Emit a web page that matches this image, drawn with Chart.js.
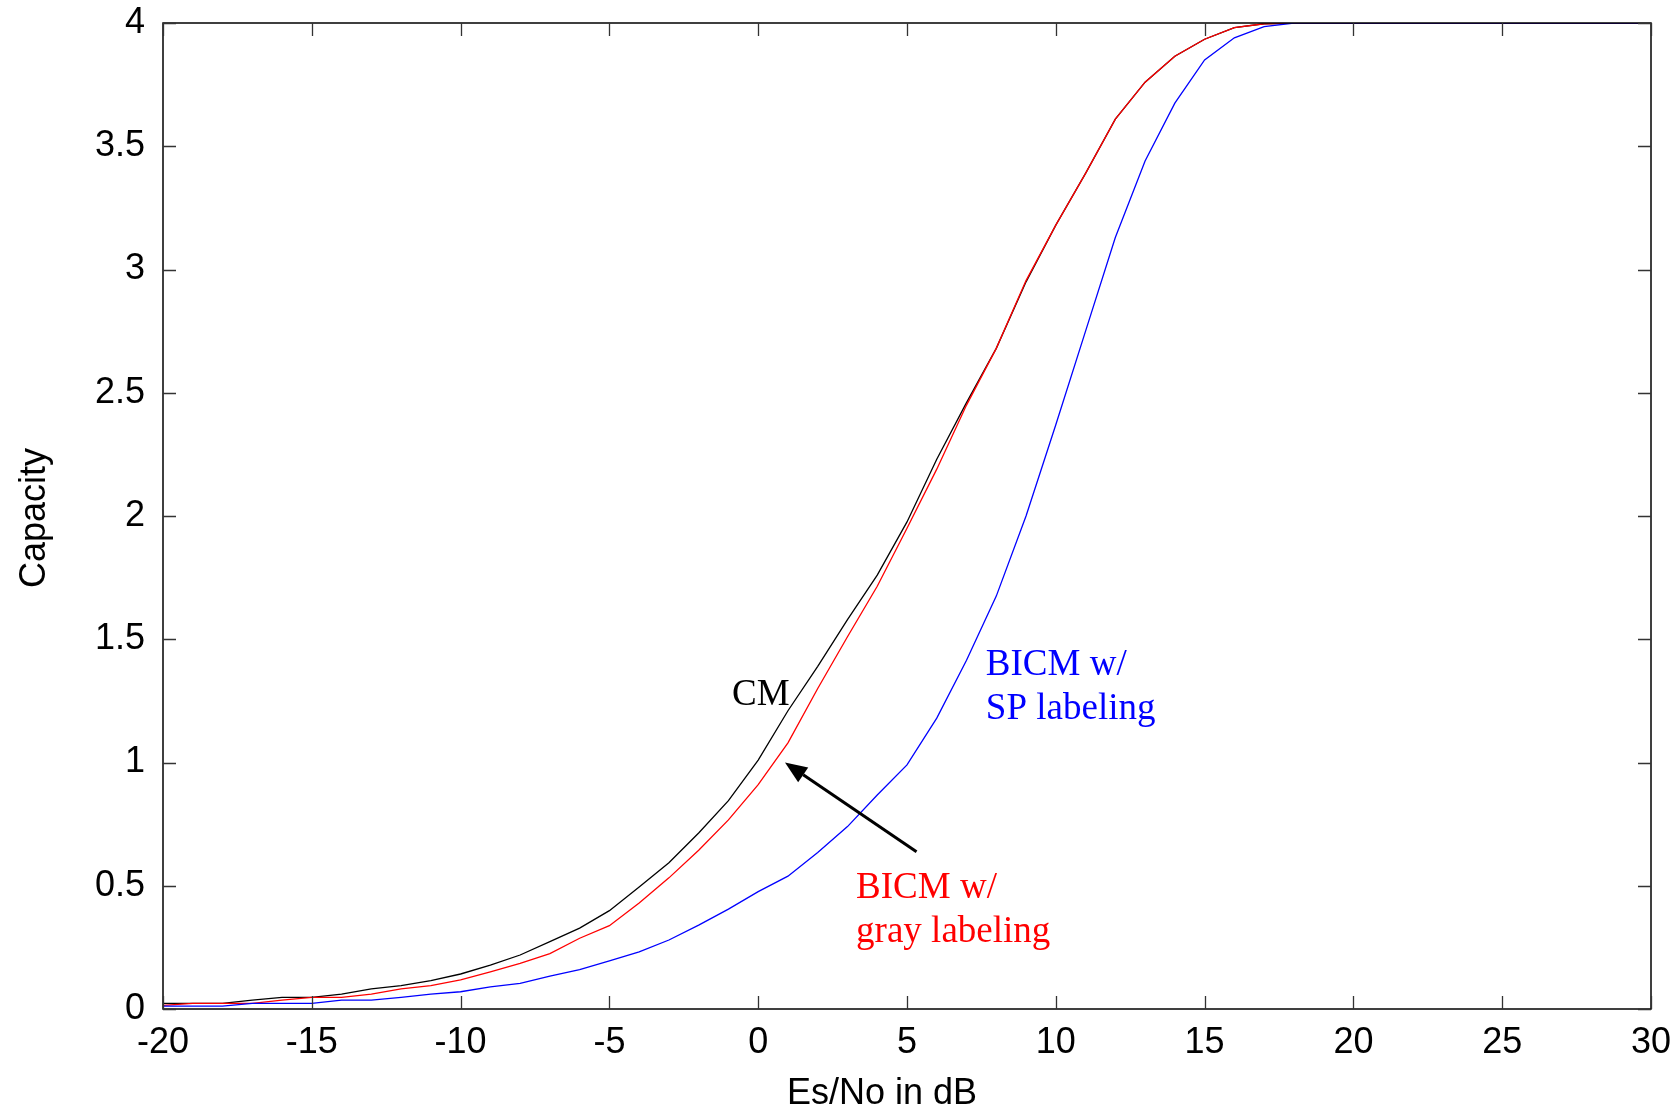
<!DOCTYPE html>
<html>
<head>
<meta charset="utf-8">
<script src="https://cdn.jsdelivr.net/npm/chart.js@4.4.1/dist/chart.umd.min.js"></script>
<style>
html, body { margin: 0; padding: 0; background: #fff; }
#wrap { width: 1678px; height: 1108px; }
</style>
</head>
<body>
<div id="wrap"><canvas id="capChart" width="1678" height="1108"></canvas></div>
<script>
// Es/No axis (dB) and the three capacity curves
const snrDb = [-20,-19,-18,-17,-16,-15,-14,-13,-12,-11,
               -10,-9,-8,-7,-6,-5,-4,-3,-2,-1,
               0,1,2,3,4,5,6,7,8,9,
               10,11,12,13,14,15,16,17,18,19,
               20,21,22,23,24,25,26,27,28,29,30];

const cmCap = [0.023,0.023,0.023,0.036,0.047,0.047,0.06,0.082,0.095,0.115,
               0.142,0.178,0.219,0.273,0.328,0.399,0.495,0.593,0.714,0.845,
               1.01,1.21,1.39,1.58,1.76,1.976,2.23,2.46,2.68,2.95,
               3.18,3.39,3.61,3.76,3.865,3.934,3.981,3.997,4,4,
               4,4,4,4,4,4,4,4,4,4,4];

const grayCap = [0.015,0.023,0.023,0.023,0.036,0.047,0.047,0.06,0.082,0.095,
                 0.118,0.151,0.185,0.225,0.287,0.338,0.43,0.532,0.644,0.767,
                 0.91,1.08,1.30,1.51,1.715,1.95,2.19,2.45,2.68,2.955,
                 3.18,3.39,3.61,3.76,3.865,3.934,3.981,3.997,4,4,
                 4,4,4,4,4,4,4,4,4,4,4];

const spCap = [0.012,0.012,0.012,0.023,0.023,0.023,0.036,0.036,0.047,0.06,
               0.07,0.09,0.104,0.133,0.16,0.195,0.232,0.28,0.34,0.405,
               0.476,0.539,0.635,0.74,0.868,0.99,1.18,1.415,1.675,2.0,
               2.37,2.75,3.13,3.44,3.675,3.85,3.94,3.985,4,4,
               4,4,4,4,4,4,4,4,4,4,4];

const xTicks = [-20,-15,-10,-5,0,5,10,15,20,25,30];
const yTicks = [0,0.5,1,1.5,2,2.5,3,3.5,4];

const xTitle = 'Es/No in dB';
const yTitle = 'Capacity';

// curve labels, anchored in data units (x dB, y capacity of the baseline)
const curveNotes = [
    { lines: ['CM'], x: -0.88, y: 1.233, color: '#000000' },
    { lines: ['BICM w/', 'SP labeling'], x: 7.65, y: 1.354, color: '#0000ff' },
    { lines: ['BICM w/', 'gray labeling'], x: 3.29, y: 0.45, color: '#ff0000' }
];
const arrowFrom = { x: 5.32, y: 0.638 };
const arrowTo = { x: 0.9, y: 1.0 };

const sansFont = "'Liberation Sans', Arial, sans-serif";
const serifFont = "'Liberation Serif', 'Times New Roman', serif";

function toPoints(ys) {
    return snrDb.map((x, i) => ({ x: x, y: ys[i] }));
}

// frame, inward ticks on all sides, titles and the curve notes
const framePlugin = {
    id: 'frame',
    afterDraw(chart) {
        const ctx = chart.ctx;
        const a = chart.chartArea;
        const sx = chart.scales.x, sy = chart.scales.y;
        const tl = 13;

        ctx.save();
        ctx.strokeStyle = '#000';
        ctx.lineWidth = 1.5;
        ctx.strokeRect(a.left, a.top, a.right - a.left, a.bottom - a.top);

        ctx.lineWidth = 1.3;
        ctx.strokeStyle = '#333';
        ctx.beginPath();
        xTicks.forEach(v => {
            const px = Math.round(sx.getPixelForValue(v)) + 0.5;
            ctx.moveTo(px, a.bottom); ctx.lineTo(px, a.bottom - tl);
            ctx.moveTo(px, a.top); ctx.lineTo(px, a.top + tl);
        });
        yTicks.forEach(v => {
            const py = Math.round(sy.getPixelForValue(v)) + 0.5;
            ctx.moveTo(a.left, py); ctx.lineTo(a.left + tl, py);
            ctx.moveTo(a.right, py); ctx.lineTo(a.right - tl, py);
        });
        ctx.stroke();

        // axis titles
        ctx.fillStyle = '#000';
        ctx.font = '36px ' + sansFont;
        ctx.textAlign = 'center';
        ctx.textBaseline = 'alphabetic';
        ctx.fillText(xTitle, 882, 1104);
        ctx.save();
        ctx.translate(45, 518);
        ctx.rotate(-Math.PI / 2);
        ctx.fillText(yTitle, 0, 0);
        ctx.restore();

        // notes
        ctx.font = '37px ' + serifFont;
        ctx.textAlign = 'left';
        curveNotes.forEach(n => {
            ctx.fillStyle = n.color;
            const px = sx.getPixelForValue(n.x);
            const py = sy.getPixelForValue(n.y);
            n.lines.forEach((t, i) => ctx.fillText(t, px, py + i * 44));
        });

        // arrow
        const x0 = sx.getPixelForValue(arrowFrom.x), y0 = sy.getPixelForValue(arrowFrom.y);
        const x1 = sx.getPixelForValue(arrowTo.x), y1 = sy.getPixelForValue(arrowTo.y);
        const ang = Math.atan2(y1 - y0, x1 - x0);
        const hl = 22, hw = 9;
        const bx = x1 - hl * Math.cos(ang), by = y1 - hl * Math.sin(ang);
        ctx.strokeStyle = '#000';
        ctx.lineWidth = 3;
        ctx.beginPath();
        ctx.moveTo(x0, y0);
        ctx.lineTo(bx, by);
        ctx.stroke();
        ctx.fillStyle = '#000';
        ctx.beginPath();
        ctx.moveTo(x1, y1);
        ctx.lineTo(bx + hw * Math.sin(ang), by - hw * Math.cos(ang));
        ctx.lineTo(bx - hw * Math.sin(ang), by + hw * Math.cos(ang));
        ctx.closePath();
        ctx.fill();
        ctx.restore();
    }
};

const ctx = document.getElementById('capChart').getContext('2d');
const capChart = new Chart(ctx, {
    type: 'line',
    data: {
        datasets: [
            {
                label: 'BICM w/ SP labeling',
                data: toPoints(spCap),
                borderColor: '#0000ff',
                borderWidth: 1.3,
                pointRadius: 0,
                tension: 0,
                fill: false,
                order: 0
            },
            {
                label: 'BICM w/ gray labeling',
                data: toPoints(grayCap),
                borderColor: '#ff0000',
                borderWidth: 1.3,
                pointRadius: 0,
                tension: 0,
                fill: false,
                order: 1
            },
            {
                label: 'CM',
                data: toPoints(cmCap),
                borderColor: '#000000',
                borderWidth: 1.3,
                pointRadius: 0,
                tension: 0,
                fill: false,
                order: 2
            }
        ]
    },
    options: {
        responsive: false,
        animation: false,
        devicePixelRatio: 1,
        layout: { padding: { left: 0, top: 23, right: 27, bottom: 0 } },
        plugins: {
            legend: { display: false },
            tooltip: { enabled: false }
        },
        scales: {
            x: {
                type: 'linear',
                min: -20,
                max: 30,
                afterFit(scale) {
                    scale.height = 99;
                    scale.paddingLeft = 0;
                    scale.paddingRight = 0;
                },
                afterBuildTicks(scale) { scale.ticks = xTicks.map(v => ({ value: v })); },
                grid: { display: false, drawTicks: false },
                border: { display: false },
                ticks: {
                    color: '#000',
                    padding: 12,
                    maxRotation: 0,
                    callback: v => String(v),
                    font: { family: sansFont, size: 36 }
                }
            },
            y: {
                type: 'linear',
                min: 0,
                max: 4,
                afterFit(scale) {
                    scale.width = 163;
                    scale.paddingTop = 0;
                    scale.paddingBottom = 0;
                },
                afterBuildTicks(scale) { scale.ticks = yTicks.map(v => ({ value: v })); },
                grid: { display: false, drawTicks: false },
                border: { display: false },
                ticks: {
                    color: '#000',
                    padding: 18,
                    callback: v => String(v),
                    font: { family: sansFont, size: 36 }
                }
            }
        }
    },
    plugins: [framePlugin]
});
</script>
</body>
</html>
